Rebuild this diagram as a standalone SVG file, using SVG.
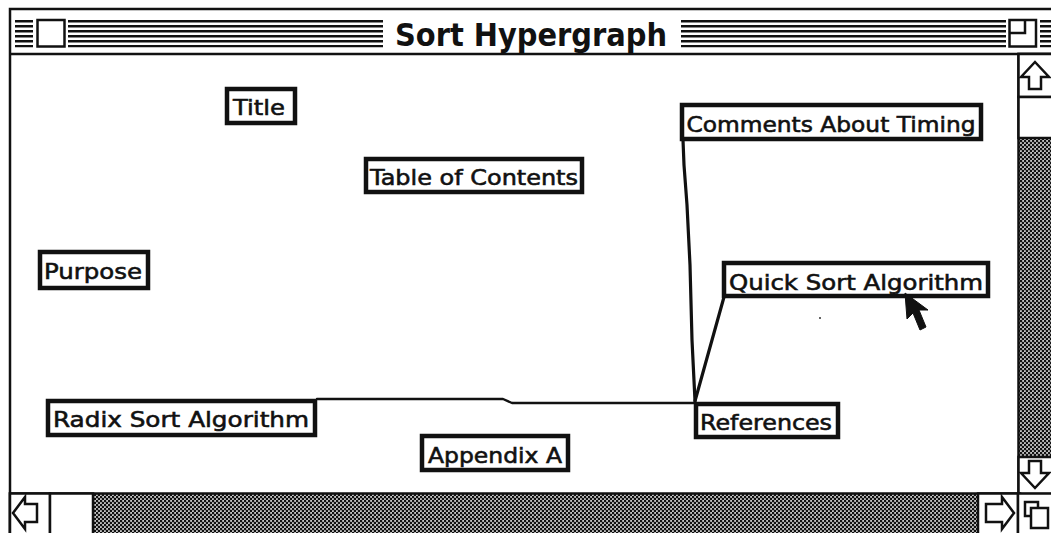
<svg xmlns="http://www.w3.org/2000/svg" width="1051" height="533" viewBox="0 0 1051 533">
<defs>
<pattern id="dots" width="4" height="4" patternUnits="userSpaceOnUse">
<rect width="4" height="4" fill="#c4c4c4"/>
<circle cx="1" cy="1" r="1.3" fill="#111"/>
<circle cx="3" cy="3" r="1.3" fill="#111"/>
</pattern>
<pattern id="stripes" width="8" height="5" patternUnits="userSpaceOnUse">
<rect width="8" height="5" fill="#fff"/>
<rect y="0" width="8" height="2.5" fill="#111"/>
</pattern>
</defs>
<style>
.node rect{fill:#fff;stroke:#111;stroke-width:4.5}
.node text{font-family:"DejaVu Sans","Liberation Sans",sans-serif;font-size:22px;fill:#111;stroke:#111;stroke-width:0.6}
.conn{fill:none;stroke:#111;stroke-linejoin:round;stroke-linecap:round}
.frame{fill:none;stroke:#111;stroke-width:2.5}
.sb{fill:#fff;stroke:#111;stroke-width:2.5}
.arr{fill:#fff;stroke:#111;stroke-width:2.5;stroke-linejoin:miter}
</style>
<rect width="1051" height="533" fill="#fff"/>
<g id="window">
<rect x="10" y="9" width="1045" height="530" class="frame"/>
<rect x="15" y="19.5" width="18" height="28" fill="url(#stripes)"/>
<rect x="68" y="19.5" width="315" height="28" fill="url(#stripes)"/>
<rect x="681" y="19.5" width="325" height="28" fill="url(#stripes)"/>
<rect x="1040" y="19.5" width="12" height="28" fill="url(#stripes)"/>
<rect x="37.5" y="20" width="27" height="26.5" class="sb"/>
<rect x="1009.5" y="20" width="26.5" height="26.5" class="sb"/>
<polyline points="1009.5,33 1025,33 1025,20" fill="none" stroke="#111" stroke-width="2.5"/>
<text x="531" y="46" text-anchor="middle" font-family="DejaVu Sans Condensed, DejaVu Sans, sans-serif" font-weight="bold" font-size="32" textLength="272" lengthAdjust="spacingAndGlyphs" fill="#111">Sort Hypergraph</text>
<line x1="10" y1="54" x2="1051" y2="54" stroke="#111" stroke-width="2.5"/>
</g>
<g id="vscroll">
<rect x="1018.5" y="54" width="34" height="440" fill="url(#dots)" stroke="#111" stroke-width="2.5"/>
<rect x="1018.5" y="54" width="34" height="43" class="sb"/>
<rect x="1018.5" y="97" width="34" height="41" class="sb"/>
<rect x="1018.5" y="457" width="34" height="37" class="sb"/>
<polygon points="1035,62 1049,77 1041,77 1041,89 1029,89 1029,77 1021,77" class="arr"/>
<polygon points="1035,488 1049,473 1041,473 1041,461 1029,461 1029,473 1021,473" class="arr"/>
</g>
<g id="hscroll">
<rect x="10" y="493.5" width="1010" height="42" fill="url(#dots)" stroke="#111" stroke-width="2.5"/>
<rect x="10" y="493.5" width="40" height="42" class="sb"/>
<rect x="50" y="493.5" width="43" height="42" class="sb"/>
<rect x="978" y="493.5" width="40" height="42" class="sb"/>
<rect x="1018" y="493.5" width="35" height="42" class="sb"/>
<polygon points="13,513 25,497 25,504 37,504 37,522 25,522 25,529" class="arr"/>
<polygon points="1014,513 1002,497 1002,504 986,504 986,522 1002,522 1002,529" class="arr"/>
<rect x="1025" y="502" width="13" height="14" class="arr"/>
<rect x="1031" y="508" width="17" height="20" class="arr"/>
</g>
<g id="connectors">
<polyline class="conn" stroke-width="3.2" points="683,140 684,165 687,205 690,265 692,340 695,401"/>
<polyline class="conn" stroke-width="3.2" points="724,297 695,401"/>
<polyline class="conn" stroke-width="2.4" points="317,399 503,399 512,403 695,403"/>
</g>
<g id="node-title" class="node"><rect x="227" y="89" width="68" height="34"/><text x="259" y="115" text-anchor="middle" textLength="52" lengthAdjust="spacingAndGlyphs">Title</text></g>
<g id="node-toc" class="node"><rect x="366" y="159" width="216" height="33"/><text x="474" y="185" text-anchor="middle" textLength="208" lengthAdjust="spacingAndGlyphs">Table of Contents</text></g>
<g id="node-purpose" class="node"><rect x="40" y="252" width="108" height="36"/><text x="93" y="279" text-anchor="middle" textLength="98" lengthAdjust="spacingAndGlyphs">Purpose</text></g>
<g id="node-comments" class="node"><rect x="682" y="105" width="299" height="34"/><text x="831" y="132" text-anchor="middle" textLength="289" lengthAdjust="spacingAndGlyphs">Comments About Timing</text></g>
<g id="node-quicksort" class="node"><rect x="724" y="263" width="264" height="33"/><text x="856" y="290" text-anchor="middle" textLength="254" lengthAdjust="spacingAndGlyphs">Quick Sort Algorithm</text></g>
<g id="node-radix" class="node"><rect x="48" y="401" width="267" height="34"/><text x="181" y="427" text-anchor="middle" textLength="256" lengthAdjust="spacingAndGlyphs">Radix Sort Algorithm</text></g>
<g id="node-references" class="node"><rect x="696" y="404" width="142" height="33"/><text x="766" y="430" text-anchor="middle" textLength="132" lengthAdjust="spacingAndGlyphs">References</text></g>
<g id="node-appendix" class="node"><rect x="422" y="436" width="146" height="34"/><text x="495" y="463" text-anchor="middle" textLength="134" lengthAdjust="spacingAndGlyphs">Appendix A</text></g>
<circle cx="820" cy="318" r="1" fill="#333"/>
<polygon id="cursor" points="905,293 907,319 913,313 920,330 926,327 919,310 928,310" fill="#111" stroke="#111" stroke-width="1"/>
</svg>
